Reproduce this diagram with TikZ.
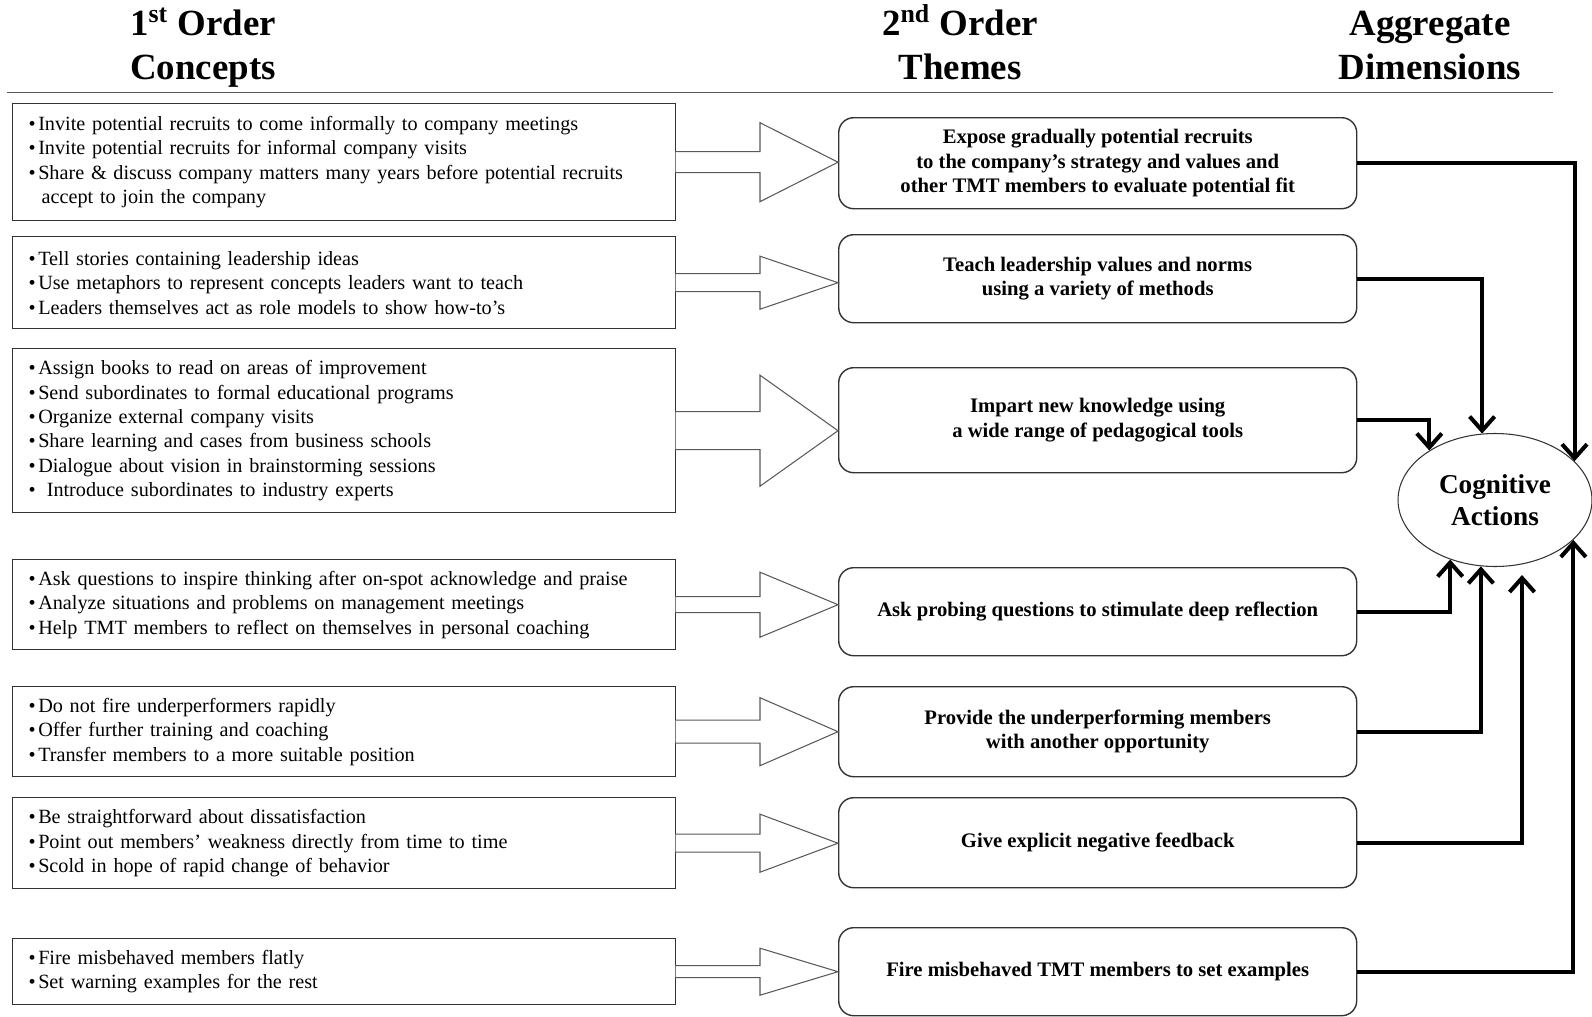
\documentclass[tikz,border=0pt]{standalone}
\usepackage{fontspec}
\setmainfont{Liberation Serif}
\usetikzlibrary{arrows.meta,calc,shapes.geometric}

\begin{document}
\begin{tikzpicture}[
    concept/.style={draw=black!80, line width=0.8pt, anchor=north west, text width=12.62cm, inner xsep=0.32cm, align=left, font=\fontsize{11.5}{13.9}\selectfont},
    theme/.style={draw=black!80, line width=0.8pt, rounded corners=0.3cm, anchor=north west, minimum width=10.36cm, align=center, font=\bfseries\fontsize{11.75}{13.9}\selectfont},
    header/.style={align=center, font=\bfseries\fontsize{21}{25}\selectfont},
    blockarrow/.style={draw=black!65, line width=0.6pt, fill=white},
    link/.style={line width=2.3pt, -{Straight Barb[length=0.28cm,width=0.5cm]}}
]
    \useasboundingbox (0,0) rectangle (31.84,-20.32);

    % column heads
    \node[header] (hdconcepts) at (4.06,-0.98) {\strut 1\smash{\textsuperscript{st}} Order\\\strut Concepts};
    \node[header] (hdthemes) at (19.2,-0.98) {\strut 2\smash{\textsuperscript{nd}} Order\\\strut Themes};
    \node[header] (hddims) at (28.6,-0.98) {\strut Aggregate\\\strut Dimensions};
    \draw[black!65, line width=1.1pt] (0.14,-1.85) -- (31.06,-1.85);

    % 1st order concepts
    \node[concept, minimum height=2.34cm] (c1) at (0.24,-2.06) {•\hspace{0.05cm}Invite potential recruits to come informally to company meetings\\•\hspace{0.05cm}Invite potential recruits for informal company visits\\•\hspace{0.05cm}Share \& discuss company matters many years before potential recruits\\\hspace*{0.26cm}accept to join the company};
    \node[concept, minimum height=1.84cm] (c2) at (0.24,-4.72) {•\hspace{0.05cm}Tell stories containing leadership ideas\\•\hspace{0.05cm}Use metaphors to represent concepts leaders want to teach\\•\hspace{0.05cm}Leaders themselves act as role models to show how-to’s};
    \node[concept, minimum height=3.28cm] (c3) at (0.24,-6.96) {•\hspace{0.05cm}Assign books to read on areas of improvement\\•\hspace{0.05cm}Send subordinates to formal educational programs\\•\hspace{0.05cm}Organize external company visits\\•\hspace{0.05cm}Share learning and cases from business schools\\•\hspace{0.05cm}Dialogue about vision in brainstorming sessions\\•\hspace{0.22cm}Introduce subordinates to industry experts};
    \node[concept, minimum height=1.8cm] (c4) at (0.24,-11.18) {•\hspace{0.05cm}Ask questions to inspire thinking after on-spot acknowledge and praise\\•\hspace{0.05cm}Analyze situations and problems on management meetings\\•\hspace{0.05cm}Help TMT members to reflect on themselves in personal coaching};
    \node[concept, minimum height=1.8cm] (c5) at (0.24,-13.72) {•\hspace{0.05cm}Do not fire underperformers rapidly\\•\hspace{0.05cm}Offer further training and coaching\\•\hspace{0.05cm}Transfer members to a more suitable position};
    \node[concept, minimum height=1.82cm] (c6) at (0.24,-15.94) {•\hspace{0.05cm}Be straightforward about dissatisfaction\\•\hspace{0.05cm}Point out members’ weakness directly from time to time\\•\hspace{0.05cm}Scold in hope of rapid change of behavior};
    \node[concept, minimum height=1.32cm] (c7) at (0.24,-18.76) {•\hspace{0.05cm}Fire misbehaved members flatly\\•\hspace{0.05cm}Set warning examples for the rest};

    % 2nd order themes
    \node[theme, minimum height=1.82cm] (m1) at (16.76,-2.34) {Expose gradually potential recruits\\to the company’s strategy and values and\\other TMT members to evaluate potential fit};
    \node[theme, minimum height=1.76cm] (m2) at (16.76,-4.68) {Teach leadership values and norms\\using a variety of methods};
    \node[theme, minimum height=2.1cm] (m3) at (16.76,-7.34) {Impart new knowledge using\\a wide range of pedagogical tools};
    \node[theme, minimum height=1.76cm] (m4) at (16.76,-11.34) {Ask probing questions to stimulate deep reflection};
    \node[theme, minimum height=1.8cm] (m5) at (16.76,-13.72) {Provide the underperforming members\\with another opportunity};
    \node[theme, minimum height=1.8cm] (m6) at (16.76,-15.94) {Give explicit negative feedback};
    \node[theme, minimum height=1.76cm] (m7) at (16.76,-18.54) {Fire misbehaved TMT members to set examples};

    % aggregate dimension
    \node[ellipse, draw=black!80, line width=0.6pt, inner sep=0pt, minimum width=3.88cm, minimum height=2.66cm, align=center, font=\bfseries\fontsize{15.5}{18.4}\selectfont] (cog) at (29.9,-10) {Cognitive\\Actions};

    % hollow block arrows, concepts to themes
    \foreach \i/\s/\h in {1/0.21/0.79, 2/0.18/0.53, 3/0.38/1.11, 4/0.16/0.65, 5/0.23/0.68, 6/0.18/0.58, 7/0.12/0.47}
        \draw[blockarrow] let \p1=(c\i.east), \p2=(m\i.west) in
            (\x1-0.5pt,\y1+\s cm) -- (\x2-1.56cm,\y1+\s cm) -- (\x2-1.56cm,\y1+\h cm) -- (\x2,\y1)
            -- (\x2-1.56cm,\y1-\h cm) -- (\x2-1.56cm,\y1-\s cm) -- (\x1-0.5pt,\y1-\s cm);

    % themes to dimension
    \coordinate (e6) at (30.44,-11.5);
    \foreach \i/\a in {1/26.86, 2/101.16, 3/143.57, 4/233.43, 5/258.06, 7/333.14}
        \draw[link] (m\i.east) -| (cog.\a);
    \draw[link] (m6.east) -| (e6);
\end{tikzpicture}
\end{document}
